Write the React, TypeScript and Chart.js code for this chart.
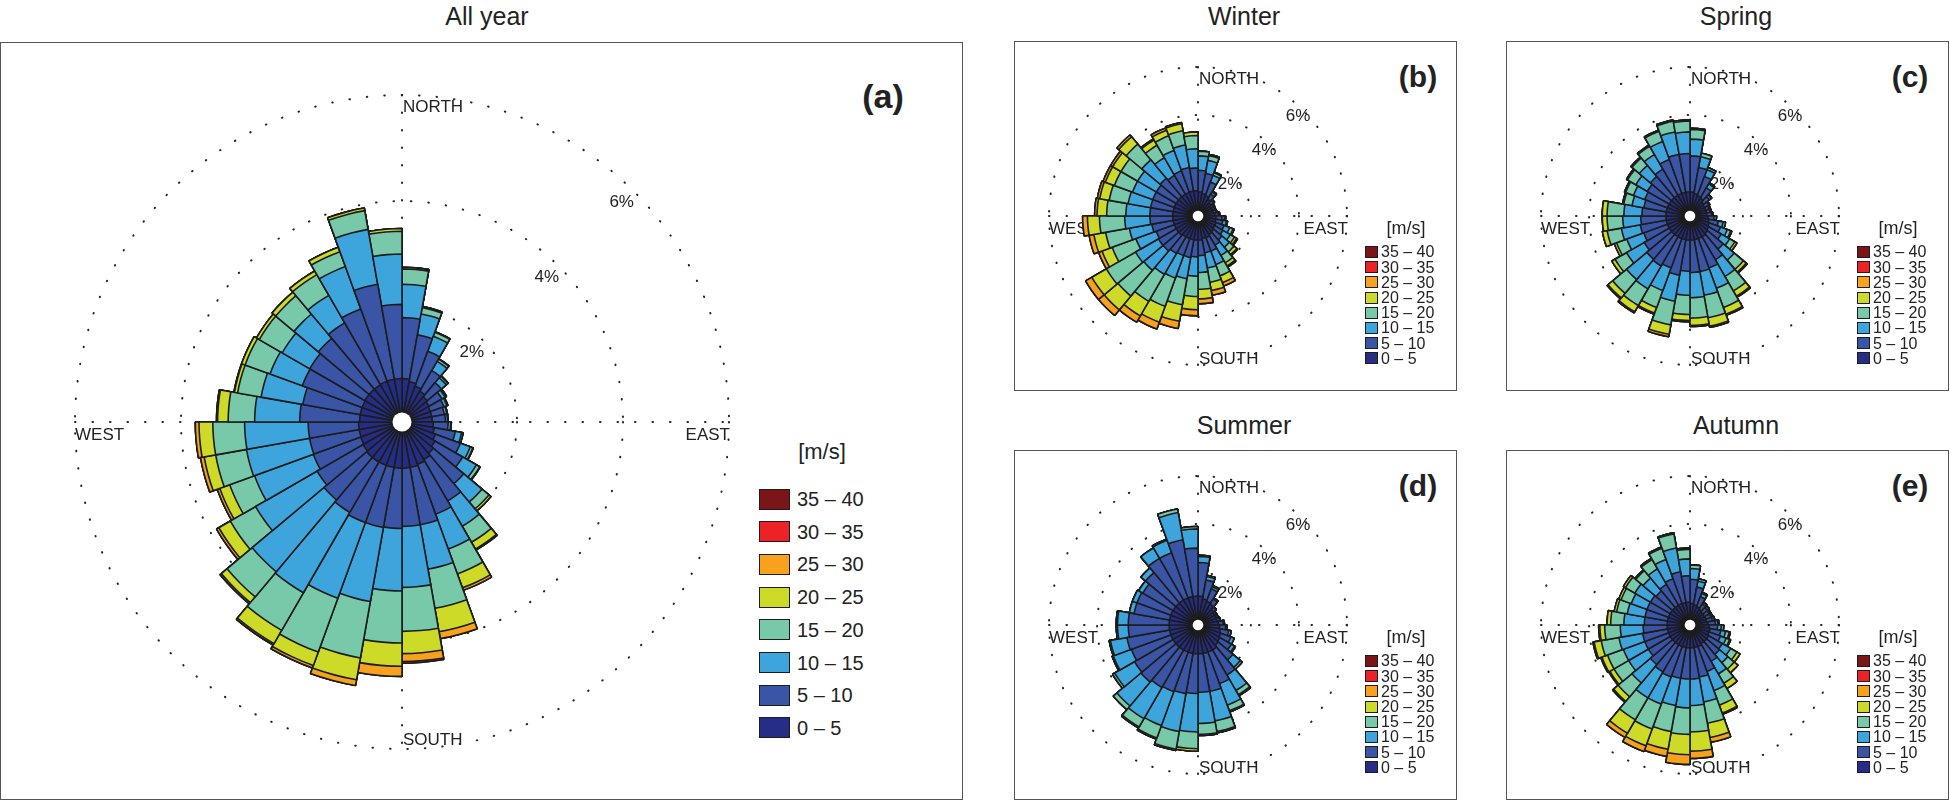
import React, { useEffect, useRef } from "react";
import { Chart, registerables } from "chart.js";
Chart.register(...registerables);

// direction sectors (degrees clockwise from north), 10° each
const DIRECTIONS = Array.from({ length: 36 }, (_, i) => `${i * 10}°`);
const SPEED_BINS = ["0 – 5", "5 – 10", "10 – 15", "15 – 20", "20 – 25", "25 – 30", "30 – 35", "35 – 40"];
const BIN_COLORS = ["#252d86", "#3a55a6", "#3ea5dc", "#77c9a9", "#cddb28", "#f7a11c", "#ec2227", "#7c1517"];
const RING_TICKS = [2, 4, 6];
const RING_LABELS = ["2%", "4%", "6%"];

// frequency (%) per speed bin for each direction sector (0°,10°,...,350°)
const ALL_YEAR: number[][] = [
  [0.65, 1.15, 0.63, 0.29, 0.03], [0.6, 0.9, 0.4, 0.12, 0.02], [0.55, 0.7, 0.3, 0.08, 0.01], [0.5, 0.45, 0.2, 0.05, 0.01],
  [0.45, 0.35, 0.12, 0.04, 0.01], [0.42, 0.28, 0.07, 0.02, 0.01], [0.4, 0.27, 0.06, 0.02], [0.4, 0.24, 0.05, 0.01],
  [0.4, 0.25, 0.04, 0.01], [0.42, 0.28, 0.05, 0.01], [0.45, 0.4, 0.12, 0.03], [0.5, 0.5, 0.2, 0.05, 0.01],
  [0.55, 0.6, 0.3, 0.07, 0.01], [0.6, 0.75, 0.45, 0.17, 0.05], [0.65, 0.9, 0.55, 0.35, 0.15, 0.02], [0.68, 1.0, 0.7, 0.5, 0.28, 0.05],
  [0.7, 1.1, 0.85, 0.75, 0.45, 0.13], [0.7, 1.1, 1.15, 0.83, 0.42, 0.15, 0.03], [0.7, 1.14, 1.18, 0.98, 0.44, 0.19], [0.7, 1.15, 1.42, 1.08, 0.42, 0.11],
  [0.7, 1.15, 1.52, 1.08, 0.27, 0.05], [0.7, 1.1, 1.75, 0.82, 0.29, 0.03], [0.7, 1.05, 1.77, 0.62, 0.14, 0.03], [0.68, 1.0, 1.34, 0.55, 0.25, 0.05],
  [0.66, 0.95, 1.18, 0.5, 0.2, 0.05], [0.65, 0.95, 1.21, 0.59, 0.22, 0.07], [0.65, 0.95, 1.2, 0.6, 0.26, 0.07], [0.63, 1.13, 0.85, 0.5, 0.2, 0.02],
  [0.63, 1.1, 0.8, 0.45, 0.06, 0.01], [0.63, 1.2, 0.65, 0.5, 0.07], [0.64, 1.2, 0.6, 0.5, 0.06], [0.64, 1.25, 0.6, 0.45, 0.09],
  [0.64, 1.35, 0.6, 0.45, 0.08], [0.65, 1.45, 0.85, 0.3, 0.09], [0.65, 1.82, 1.05, 0.36, 0.05], [0.65, 1.4, 0.95, 0.43, 0.05],
];

const WINTER: number[][] = [
  [0.8, 0.9, 0.6, 0.2], [0.75, 0.85, 0.55, 0.2, 0.05], [0.7, 0.6, 0.3, 0.12, 0.03], [0.6, 0.25, 0.1, 0.05],
  [0.5, 0.15, 0.05], [0.45, 0.1, 0.05], [0.45, 0.1, 0.03], [0.45, 0.12, 0.03],
  [0.5, 0.15, 0.05], [0.55, 0.25, 0.1, 0.05], [0.55, 0.3, 0.15, 0.05], [0.6, 0.35, 0.25, 0.15, 0.05],
  [0.6, 0.4, 0.35, 0.2, 0.1, 0.05], [0.65, 0.45, 0.4, 0.25, 0.15, 0.05], [0.7, 0.5, 0.5, 0.35, 0.15, 0.05], [0.75, 0.6, 0.6, 0.5, 0.3, 0.15],
  [0.75, 0.6, 0.65, 0.6, 0.35, 0.2], [0.8, 0.65, 0.7, 0.7, 0.4, 0.2], [0.8, 0.7, 0.8, 0.85, 0.55, 0.25], [0.8, 0.75, 0.9, 1.1, 0.7, 0.3],
  [0.8, 0.75, 1.0, 1.25, 0.7, 0.3], [0.8, 0.8, 1.0, 1.3, 0.7, 0.3], [0.85, 0.85, 1.05, 1.4, 0.75, 0.3], [0.85, 0.85, 1.1, 1.4, 0.7, 0.3],
  [0.85, 0.8, 0.9, 1.05, 0.45, 0.15], [0.85, 0.9, 0.95, 1.0, 0.5, 0.2], [0.85, 0.95, 1.05, 1.05, 0.5, 0.2], [0.85, 0.95, 1.0, 0.8, 0.4, 0.1],
  [0.85, 0.95, 0.95, 0.8, 0.4, 0.1], [0.85, 0.95, 0.9, 0.8, 0.4, 0.1], [0.85, 0.95, 0.9, 0.8, 0.4, 0.1], [0.85, 1.0, 1.0, 0.85, 0.4, 0.1],
  [0.85, 0.9, 0.85, 0.6, 0.25, 0.05], [0.85, 0.95, 0.9, 0.65, 0.25, 0.1], [0.85, 1.0, 0.95, 0.6, 0.3, 0.05], [0.85, 0.95, 0.8, 0.55, 0.15],
];

const SPRING: number[][] = [
  [0.8, 1.5, 0.7, 0.4, 0.05], [0.75, 1.1, 0.45, 0.15], [0.7, 0.85, 0.3, 0.1], [0.65, 0.5, 0.2, 0.05],
  [0.55, 0.3, 0.1, 0.03], [0.5, 0.2, 0.05], [0.5, 0.15, 0.05], [0.5, 0.15, 0.05],
  [0.5, 0.2, 0.05], [0.55, 0.25, 0.1], [0.6, 0.4, 0.2, 0.1], [0.65, 0.5, 0.3, 0.15, 0.05],
  [0.7, 0.6, 0.4, 0.25, 0.1], [0.75, 0.85, 0.6, 0.5, 0.15, 0.05], [0.8, 1.1, 0.8, 0.7, 0.25, 0.05], [0.8, 1.3, 0.9, 0.85, 0.3, 0.05],
  [0.8, 1.35, 1.0, 0.95, 0.35, 0.05], [0.8, 1.35, 1.05, 0.85, 0.3, 0.05], [0.8, 1.3, 1.0, 0.8, 0.25, 0.05], [0.8, 1.5, 1.1, 1.0, 0.4, 0.1],
  [0.8, 1.3, 1.0, 0.75, 0.25, 0.05], [0.8, 1.4, 1.1, 0.8, 0.3, 0.05], [0.8, 1.35, 1.1, 0.75, 0.25, 0.05], [0.8, 1.2, 0.85, 0.55, 0.15],
  [0.8, 1.05, 0.75, 0.45, 0.1], [0.8, 1.1, 0.8, 0.6, 0.2], [0.8, 1.05, 0.75, 0.65, 0.2], [0.8, 1.0, 0.75, 0.7, 0.2],
  [0.8, 0.95, 0.5, 0.35, 0.05], [0.8, 1.0, 0.5, 0.35, 0.05], [0.8, 1.05, 0.55, 0.4, 0.05], [0.8, 1.15, 0.6, 0.4, 0.05],
  [0.8, 1.25, 0.7, 0.4, 0.05], [0.8, 1.5, 0.8, 0.45, 0.05], [0.8, 1.6, 0.95, 0.45, 0.05], [0.8, 1.6, 0.9, 0.45, 0.05],
];

const SUMMER: number[][] = [
  [1.0, 1.4, 0.25, 0.05], [0.9, 0.8, 0.15, 0.05], [0.85, 0.55, 0.1, 0.05], [0.8, 0.25, 0.05],
  [0.65, 0.12, 0.03], [0.6, 0.08, 0.02], [0.6, 0.08, 0.02], [0.6, 0.12, 0.03],
  [0.65, 0.2, 0.05], [0.7, 0.25, 0.05], [0.75, 0.35, 0.1], [0.8, 0.45, 0.15],
  [0.85, 0.55, 0.15, 0.05], [0.9, 0.8, 0.4, 0.1], [1.0, 1.2, 0.75, 0.2, 0.05], [1.0, 1.4, 0.95, 0.25, 0.05],
  [1.0, 1.6, 1.25, 0.45, 0.05], [1.0, 1.6, 1.3, 0.45, 0.05], [1.0, 1.65, 1.6, 0.7, 0.1], [1.0, 1.7, 1.6, 0.75, 0.05],
  [1.0, 1.75, 1.5, 0.55, 0.05], [1.0, 1.8, 1.5, 0.4, 0.05], [1.0, 1.9, 1.3, 0.2], [1.0, 1.85, 0.95, 0.1],
  [1.0, 1.75, 0.8, 0.05], [1.0, 1.8, 0.7, 0.05], [1.0, 1.7, 0.45, 0.05], [1.0, 1.7, 0.45, 0.05],
  [1.0, 1.5, 0.2], [1.0, 1.5, 0.2], [1.0, 1.45, 0.2], [1.0, 1.65, 0.25],
  [1.0, 2.0, 0.5], [1.0, 2.0, 0.55, 0.05], [1.0, 2.4, 1.15, 0.15], [1.0, 2.0, 0.8, 0.1],
];

const AUTUMN: number[][] = [
  [0.7, 1.0, 0.45, 0.15], [0.65, 0.75, 0.25, 0.1], [0.6, 0.45, 0.15, 0.05], [0.55, 0.25, 0.08, 0.02],
  [0.5, 0.25, 0.08, 0.02], [0.5, 0.22, 0.06, 0.02], [0.5, 0.22, 0.06, 0.02], [0.5, 0.25, 0.08, 0.02],
  [0.55, 0.3, 0.1, 0.05], [0.6, 0.35, 0.15, 0.1], [0.65, 0.45, 0.2, 0.15, 0.05], [0.65, 0.5, 0.25, 0.15, 0.05],
  [0.7, 0.65, 0.4, 0.3, 0.15], [0.7, 0.7, 0.45, 0.35, 0.2], [0.7, 0.85, 0.6, 0.45, 0.25], [0.75, 1.1, 0.85, 0.65, 0.35, 0.05],
  [0.75, 1.25, 1.05, 0.9, 0.6, 0.2], [0.75, 1.3, 1.1, 1.1, 0.8, 0.3], [0.75, 1.3, 1.2, 1.1, 0.85, 0.4], [0.75, 1.3, 1.15, 1.1, 0.75, 0.3],
  [0.75, 1.35, 1.2, 1.1, 0.75, 0.25], [0.75, 1.3, 1.25, 1.05, 0.65, 0.2], [0.75, 1.2, 1.0, 0.75, 0.25, 0.05], [0.75, 1.05, 0.95, 0.7, 0.2, 0.05],
  [0.75, 1.05, 0.95, 0.7, 0.25, 0.05], [0.75, 1.05, 1.0, 0.75, 0.3, 0.05], [0.75, 1.0, 0.95, 0.65, 0.2, 0.05], [0.75, 0.95, 0.85, 0.55, 0.15],
  [0.75, 0.95, 0.75, 0.45, 0.1], [0.75, 0.95, 0.7, 0.45, 0.1], [0.75, 0.95, 0.75, 0.45, 0.1], [0.75, 0.9, 0.7, 0.4, 0.05],
  [0.75, 1.0, 0.75, 0.45, 0.05], [0.75, 1.1, 0.85, 0.5, 0.05], [0.75, 1.3, 1.0, 0.6, 0.05], [0.75, 1.1, 0.7, 0.4, 0.05],
];

const FONT = "'Liberation Sans', Arial, sans-serif";

type RoseProps = { bins: number[][]; cx: number; cy: number; R: number; min: number; southOff: number };

function Rose({ bins, cx, cy, R, min, southOff }: RoseProps) {
  const ref = useRef<HTMLCanvasElement>(null);
  const pad = 24;
  const size = 2 * (R + pad);
  useEffect(() => {
    const cum = bins.map((s) => {
      let a = 0;
      const c = SPEED_BINS.map((_, k) => (a += s[k] ?? 0));
      return c;
    });
    const datasets = BIN_COLORS.map((col, k) => ({
      label: SPEED_BINS[k],
      data: cum.map((c) => c[k]),
      backgroundColor: col,
      borderColor: "#1c1c1c",
      borderWidth: 1.6,
    }));
    const deco = {
      id: "deco",
      beforeDatasetsDraw(chart: any) {
        const s = chart.scales.r;
        const x = s.xCenter, y = s.yCenter;
        const ctx = chart.ctx;
        const rOut = s.getDistanceFromCenterForValue(6);
        ctx.save();
        ctx.strokeStyle = "#222";
        ctx.lineWidth = 2;
        ctx.lineCap = "round";
        ctx.setLineDash([0.5, 17]);
        RING_TICKS.forEach((v) => {
          ctx.beginPath();
          ctx.arc(x, y, s.getDistanceFromCenterForValue(v), 0, Math.PI * 2);
          ctx.stroke();
        });
        ctx.beginPath();
        ctx.moveTo(x, y - rOut); ctx.lineTo(x, y + rOut);
        ctx.moveTo(x - rOut, y); ctx.lineTo(x + rOut, y);
        ctx.stroke();
        ctx.setLineDash([]);
        ctx.fillStyle = "#222";
        ctx.font = `17px ${FONT}`;
        ctx.textBaseline = "alphabetic";
        ctx.textAlign = "left";
        ctx.fillText("NORTH", x + 1, y - rOut + 17);
        ctx.fillText("WEST", x - rOut, y + 18);
        ctx.fillText("SOUTH", x + 1, y + rOut - southOff);
        ctx.textAlign = "right";
        ctx.fillText("EAST", x + rOut + 1, y + 18);
        ctx.textAlign = "center";
        ctx.textBaseline = "middle";
        RING_TICKS.forEach((v, i) => {
          const d = s.getDistanceFromCenterForValue(v) - R * 0.05;
          ctx.fillText(RING_LABELS[i], x + d * Math.SQRT1_2, y - d * Math.SQRT1_2);
        });
        ctx.restore();
      },
      afterDatasetsDraw(chart: any) {
        const s = chart.scales.r;
        const ctx = chart.ctx;
        ctx.save();
        ctx.fillStyle = "#fff";
        ctx.beginPath();
        ctx.arc(s.xCenter, s.yCenter, s.getDistanceFromCenterForValue(0) + 0.5, 0, Math.PI * 2);
        ctx.fill();
        ctx.restore();
      },
    };
    const chart = new Chart(ref.current!, {
      type: "polarArea",
      data: { labels: DIRECTIONS, datasets },
      options: {
        responsive: false,
        animation: false,
        events: [],
        startAngle: -5,
        layout: { padding: pad },
        plugins: { legend: { display: false }, tooltip: { enabled: false } },
        scales: {
          r: {
            min,
            max: 6,
            ticks: { display: false },
            grid: { display: false },
            angleLines: { display: false },
            pointLabels: { display: false },
          },
        },
      } as any,
      plugins: [deco],
    });
    return () => chart.destroy();
  }, [bins, R, min]);
  return (
    <canvas
      ref={ref}
      width={size}
      height={size}
      style={{ position: "absolute", left: cx - size / 2, top: cy - size / 2, width: size, height: size }}
    />
  );
}

function Legend({ x, y, box, w, h, step, font, headFont, headX, headY }: any) {
  const order = [...SPEED_BINS.keys()].reverse();
  return (
    <>
      <div style={{ position: "absolute", left: headX - 60, width: 120, top: headY - headFont * 0.6, textAlign: "center", fontSize: headFont, lineHeight: `${headFont * 1.2}px`, color: "#222" }}>[m/s]</div>
      {order.map((k, i) => (
        <React.Fragment key={k}>
          <div style={{ position: "absolute", left: x, top: y + i * step - h / 2, width: w, height: h, background: BIN_COLORS[k], border: "1.5px solid #1c1c1c", boxSizing: "border-box" }} />
          <div style={{ position: "absolute", left: x + w + box, top: y + i * step - font * 0.6, fontSize: font, lineHeight: `${font * 1.2}px`, color: "#222", whiteSpace: "nowrap" }}>{SPEED_BINS[k]}</div>
        </React.Fragment>
      ))}
    </>
  );
}

function Panel({ l, t, w, h }: any) {
  return <div style={{ position: "absolute", left: l, top: t, width: w, height: h, border: "1.5px solid #555", boxSizing: "border-box" }} />;
}

function Text({ x, y, size, bold, children }: any) {
  return (
    <div style={{ position: "absolute", left: x - 100, width: 200, top: y - size * 0.6, textAlign: "center", fontSize: size, lineHeight: `${size * 1.2}px`, fontWeight: bold ? 700 : 400, color: "#222", whiteSpace: "nowrap" }}>
      {children}
    </div>
  );
}

export default function App() {
  const small = [
    { bins: WINTER, cx: 1198, cy: 216, title: "Winter", tag: "(b)" },
    { bins: SPRING, cx: 1690, cy: 216, title: "Spring", tag: "(c)" },
    { bins: SUMMER, cx: 1198, cy: 625, title: "Summer", tag: "(d)" },
    { bins: AUTUMN, cx: 1690, cy: 625, title: "Autumn", tag: "(e)" },
  ];
  return (
    <div style={{ position: "absolute", left: 0, top: 0, width: 1950, height: 802, background: "#fff", fontFamily: FONT, overflow: "hidden" }}>
      <Panel l={0} t={42} w={963} h={758} />
      <Text x={487} y={16} size={25}>All year</Text>
      <Text x={883} y={96} size={34} bold>(a)</Text>
      <Rose bins={ALL_YEAR} cx={402} cy={422} R={327} min={-0.17} southOff={4} />
      <Legend x={759} y={499} box={7} w={31} h={21} step={32.7} font={20} headFont={22} headX={822} headY={452} />
      {small.map((p, i) => {
        const dx = p.cx - 1198;
        const dy = p.cy - 216;
        return (
          <React.Fragment key={i}>
            <Panel l={1014 + dx} t={41 + dy} w={443} h={350} />
            <Text x={1244 + dx} y={16 + dy} size={25}>{p.title}</Text>
            <Text x={1418 + dx} y={77 + dy} size={30} bold>{p.tag}</Text>
            <Rose bins={p.bins} cx={p.cx} cy={p.cy} R={149} min={-0.2} southOff={1} />
            <Legend x={1365 + dx} y={252 + dy} box={3} w={13} h={12} step={15.2} font={16} headFont={18} headX={1406 + dx} headY={229 + dy} />
          </React.Fragment>
        );
      })}
    </div>
  );
}
